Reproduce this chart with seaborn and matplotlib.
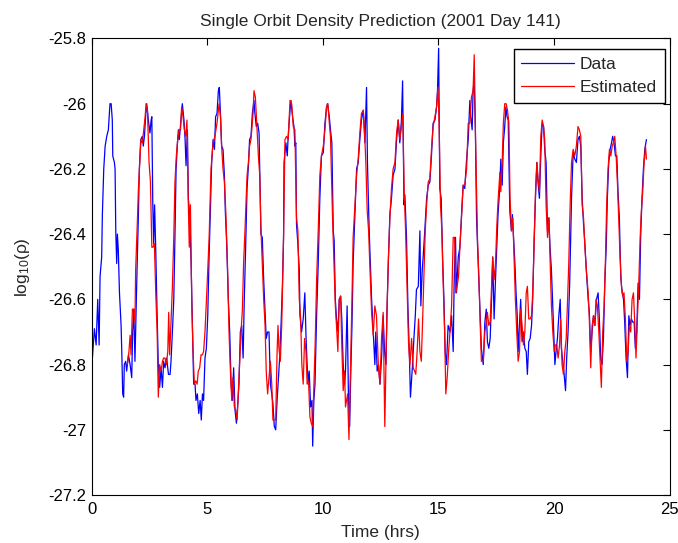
import matplotlib
matplotlib.use("Agg")
import matplotlib.pyplot as plt
import seaborn as sns
import pandas as pd
from matplotlib.ticker import FuncFormatter

# (time in hrs, log10 density)
data_points = [
    (0.00,-26.81),(0.115,-26.69),(0.19,-26.74),(0.26,-26.60),(0.32,-26.74),(0.36,-26.53),(0.43,-26.47),(0.46,-26.34),
    (0.52,-26.20),(0.58,-26.13),(0.65,-26.10),(0.72,-26.08),(0.79,-26.00),(0.84,-26.00),(0.89,-26.05),(0.91,-26.16),
    (0.98,-26.18),(1.01,-26.20),(1.04,-26.39),(1.08,-26.49),(1.11,-26.40),(1.15,-26.45),(1.20,-26.58),(1.27,-26.68),
    (1.30,-26.76),(1.34,-26.89),(1.38,-26.90),(1.41,-26.80),(1.47,-26.79),(1.51,-26.82),(1.59,-26.77),(1.66,-26.80),
    (1.73,-26.84),(1.77,-26.70),(1.82,-26.63),(1.87,-26.79),(1.92,-26.63),(1.96,-26.51),(2.02,-26.34),(2.06,-26.20),
    (2.12,-26.11),(2.19,-26.10),(2.23,-26.13),(2.28,-26.10),(2.34,-26.03),(2.38,-26.00),(2.45,-26.05),(2.52,-26.09),
    (2.57,-26.05),(2.60,-26.04),(2.64,-26.30),(2.68,-26.43),(2.72,-26.31),(2.77,-26.45),(2.83,-26.65),(2.88,-26.80),
    (2.94,-26.87),(3.00,-26.81),(3.06,-26.87),(3.11,-26.79),(3.17,-26.81),(3.24,-26.78),(3.32,-26.83),(3.39,-26.83),
    (3.43,-26.79),(3.49,-26.70),(3.55,-26.60),(3.60,-26.41),(3.65,-26.20),(3.71,-26.12),(3.75,-26.08),(3.79,-26.11),
    (3.85,-26.06),(3.92,-26.00),(3.99,-26.05),(4.04,-26.11),(4.08,-26.19),(4.14,-26.08),(4.18,-26.29),(4.25,-26.35),
    (4.30,-26.49),(4.35,-26.66),(4.41,-26.86),(4.47,-26.86),(4.51,-26.91),(4.57,-26.89),(4.63,-26.95),(4.69,-26.91),
    (4.74,-26.97),(4.79,-26.89),(4.84,-26.91),(4.90,-26.78),(4.96,-26.75),(5.02,-26.65),(5.07,-26.49),(5.13,-26.34),
    (5.19,-26.18),(5.25,-26.11),(5.31,-26.14),(5.36,-26.04),(5.42,-26.03),(5.48,-25.96),(5.52,-25.95),(5.57,-26.03),
    (5.62,-26.13),(5.68,-26.14),(5.74,-26.22),(5.78,-26.33),(5.84,-26.43),(5.91,-26.60),(5.97,-26.70),(6.03,-26.86),
    (6.08,-26.91),(6.14,-26.81),(6.20,-26.94),(6.26,-26.98),(6.31,-26.93),(6.37,-26.86),(6.43,-26.70),(6.49,-26.68),
    (6.55,-26.78),(6.60,-26.60),(6.66,-26.44),(6.72,-26.26),(6.78,-26.19),(6.83,-26.11),(6.89,-26.10),(6.95,-26.03),
    (7.02,-25.99),(7.06,-26.03),(7.12,-26.07),(7.18,-26.06),(7.24,-26.09),(7.28,-26.24),(7.32,-26.40),(7.38,-26.41),
    (7.44,-26.54),(7.50,-26.64),(7.55,-26.72),(7.61,-26.70),(7.67,-26.70),(7.73,-26.86),(7.79,-26.89),(7.84,-26.92),
    (7.90,-26.99),(7.96,-27.00),(8.02,-26.91),(8.07,-26.85),(8.13,-26.78),(8.19,-26.68),(8.25,-26.56),(8.30,-26.41),
    (8.32,-26.18),(8.40,-26.12),(8.46,-26.16),(8.50,-26.10),(8.58,-26.02),(8.62,-25.99),(8.69,-26.04),(8.75,-26.07),
    (8.79,-26.13),(8.83,-26.12),(8.86,-26.37),(8.92,-26.43),(8.98,-26.51),(9.01,-26.65),(9.08,-26.70),(9.15,-26.66),
    (9.22,-26.58),(9.27,-26.71),(9.32,-26.80),(9.37,-26.86),(9.41,-26.82),(9.47,-26.93),(9.53,-26.91),(9.56,-27.05),
    (9.61,-26.91),(9.66,-26.86),(9.73,-26.65),(9.80,-26.49),(9.87,-26.29),(9.94,-26.16),(10.02,-26.15),(10.09,-26.06),
    (10.16,-26.01),(10.20,-26.00),(10.28,-26.04),(10.33,-26.08),(10.39,-26.12),(10.45,-26.39),(10.49,-26.42),(10.54,-26.60),
    (10.59,-26.66),(10.65,-26.70),(10.71,-26.60),(10.77,-26.59),(10.82,-26.66),(10.88,-26.80),(10.94,-26.86),(10.98,-26.82),
    (11.05,-26.62),(11.11,-26.91),(11.16,-26.99),(11.20,-26.85),(11.26,-26.68),(11.31,-26.49),(11.39,-26.34),(11.46,-26.20),
    (11.53,-26.18),(11.60,-26.11),(11.67,-26.05),(11.75,-26.02),(11.82,-26.12),(11.89,-25.95),(11.93,-26.18),(11.99,-26.35),
    (12.03,-26.44),(12.11,-26.60),(12.18,-26.70),(12.25,-26.80),(12.29,-26.70),(12.35,-26.82),(12.41,-26.80),(12.47,-26.86),
    (12.54,-26.78),(12.61,-26.65),(12.67,-26.76),(12.73,-26.80),(12.78,-26.62),(12.84,-26.47),(12.90,-26.34),(12.97,-26.29),
    (13.04,-26.22),(13.12,-26.20),(13.19,-26.11),(13.26,-26.05),(13.33,-26.12),(13.40,-26.05),(13.45,-25.93),(13.51,-26.31),
    (13.55,-26.28),(13.62,-26.41),(13.68,-26.62),(13.74,-26.76),(13.79,-26.90),(13.88,-26.80),(13.94,-26.72),(14.00,-26.65),
    (14.05,-26.57),(14.13,-26.56),(14.20,-26.39),(14.24,-26.62),(14.30,-26.51),(14.34,-26.47),(14.41,-26.39),(14.49,-26.29),
    (14.56,-26.25),(14.63,-26.24),(14.70,-26.16),(14.77,-26.06),(14.85,-26.05),(14.92,-26.01),(14.96,-25.96),(15.01,-25.83),
    (15.06,-26.26),(15.12,-26.29),(15.18,-26.47),(15.24,-26.60),(15.29,-26.76),(15.35,-26.80),(15.42,-26.68),(15.50,-26.70),
    (15.57,-26.65),(15.64,-26.76),(15.68,-26.55),(15.74,-26.41),(15.78,-26.58),(15.86,-26.47),(15.93,-26.44),(16.00,-26.34),
    (16.07,-26.25),(16.14,-26.26),(16.21,-26.18),(16.29,-26.11),(16.36,-25.99),(16.40,-26.04),(16.46,-26.08),(16.50,-25.96),
    (16.55,-25.93),(16.60,-26.08),(16.65,-26.35),(16.69,-26.43),(16.75,-26.54),(16.81,-26.65),(16.86,-26.75),(16.94,-26.80),
    (17.01,-26.67),(17.07,-26.63),(17.12,-26.73),(17.18,-26.75),(17.24,-26.72),(17.30,-26.60),(17.35,-26.47),(17.41,-26.66),
    (17.47,-26.54),(17.53,-26.43),(17.58,-26.34),(17.66,-26.25),(17.70,-26.17),(17.76,-26.25),(17.81,-26.12),(17.87,-26.07),
    (17.92,-26.01),(17.97,-26.04),(18.02,-26.05),(18.09,-26.33),(18.16,-26.39),(18.20,-26.34),(18.25,-26.41),(18.31,-26.49),
    (18.36,-26.58),(18.41,-26.65),(18.45,-26.76),(18.51,-26.67),(18.56,-26.60),(18.62,-26.73),(18.68,-26.70),(18.74,-26.75),
    (18.80,-26.76),(18.85,-26.83),(18.91,-26.73),(18.97,-26.72),(19.03,-26.68),(19.08,-26.60),(19.14,-26.42),(19.20,-26.29),
    (19.26,-26.18),(19.31,-26.24),(19.37,-26.29),(19.43,-26.16),(19.49,-26.06),(19.55,-26.07),(19.60,-26.14),(19.66,-26.18),
    (19.72,-26.39),(19.78,-26.35),(19.83,-26.44),(19.89,-26.51),(19.95,-26.62),(19.99,-26.70),(20.04,-26.80),(20.09,-26.76),
    (20.15,-26.72),(20.21,-26.65),(20.27,-26.60),(20.32,-26.75),(20.38,-26.79),(20.44,-26.83),(20.50,-26.88),(20.55,-26.78),
    (20.61,-26.70),(20.68,-26.55),(20.76,-26.29),(20.83,-26.15),(20.90,-26.17),(20.97,-26.18),(21.04,-26.11),(21.10,-26.10),
    (21.16,-26.13),(21.22,-26.29),(21.28,-26.37),(21.33,-26.42),(21.40,-26.51),(21.48,-26.60),(21.53,-26.64),(21.59,-26.76),
    (21.65,-26.70),(21.71,-26.65),(21.77,-26.68),(21.84,-26.60),(21.91,-26.58),(21.97,-26.67),(22.02,-26.78),(22.08,-26.80),
    (22.14,-26.72),(22.20,-26.55),(22.26,-26.44),(22.31,-26.29),(22.37,-26.18),(22.43,-26.14),(22.49,-26.12),(22.54,-26.10),
    (22.60,-26.12),(22.66,-26.16),(22.72,-26.16),(22.77,-26.27),(22.83,-26.35),(22.89,-26.53),(22.95,-26.58),(23.01,-26.60),
    (23.06,-26.67),(23.12,-26.78),(23.18,-26.84),(23.24,-26.65),(23.29,-26.68),(23.35,-26.66),(23.41,-26.67),(23.47,-26.67),
    (23.52,-26.75),(23.58,-26.70),(23.64,-26.55),(23.70,-26.60),(23.75,-26.41),(23.81,-26.29),(23.87,-26.20),(23.93,-26.14),
    (24.00,-26.11),
]

est_points = [
    (1.54,-26.80),(1.61,-26.76),(1.66,-26.71),(1.70,-26.77),(1.76,-26.63),(1.82,-26.63),(1.87,-26.67),(1.90,-26.51),
    (1.98,-26.35),(2.02,-26.26),(2.08,-26.18),(2.13,-26.11),(2.19,-26.12),(2.25,-26.08),(2.31,-26.04),(2.35,-26.00),
    (2.41,-26.02),(2.48,-26.18),(2.54,-26.24),(2.60,-26.44),(2.65,-26.44),(2.71,-26.43),(2.77,-26.58),(2.83,-26.70),
    (2.88,-26.90),(2.94,-26.80),(3.00,-26.82),(3.06,-26.79),(3.11,-26.78),(3.17,-26.78),(3.23,-26.80),(3.29,-26.76),
    (3.33,-26.64),(3.37,-26.77),(3.43,-26.67),(3.49,-26.56),(3.55,-26.41),(3.60,-26.24),(3.66,-26.16),(3.72,-26.11),
    (3.78,-26.08),(3.84,-26.08),(3.89,-26.01),(3.95,-26.04),(4.01,-26.08),(4.07,-26.10),(4.12,-26.05),(4.18,-26.31),
    (4.22,-26.44),(4.27,-26.31),(4.33,-26.62),(4.38,-26.75),(4.44,-26.86),(4.50,-26.85),(4.56,-26.86),(4.61,-26.82),
    (4.67,-26.81),(4.73,-26.77),(4.79,-26.77),(4.84,-26.76),(4.90,-26.70),(4.99,-26.56),(5.08,-26.41),(5.16,-26.20),
    (5.25,-26.12),(5.33,-26.10),(5.42,-26.06),(5.51,-26.00),(5.57,-26.04),(5.62,-26.13),(5.68,-26.20),(5.74,-26.24),
    (5.80,-26.33),(5.88,-26.51),(5.94,-26.70),(6.00,-26.82),(6.06,-26.91),(6.11,-26.84),(6.17,-26.93),(6.23,-26.94),
    (6.29,-26.97),(6.34,-26.89),(6.40,-26.80),(6.46,-26.70),(6.52,-26.63),(6.57,-26.49),(6.63,-26.39),(6.72,-26.22),
    (6.78,-26.18),(6.83,-26.13),(6.89,-26.11),(6.98,-26.03),(7.02,-25.96),(7.08,-25.98),(7.14,-26.06),(7.21,-26.16),
    (7.27,-26.22),(7.32,-26.38),(7.38,-26.49),(7.44,-26.60),(7.50,-26.68),(7.55,-26.82),(7.61,-26.89),(7.67,-26.84),
    (7.73,-26.79),(7.79,-26.86),(7.84,-26.97),(7.90,-26.97),(7.96,-26.97),(8.02,-26.76),(8.06,-26.68),(8.10,-26.75),
    (8.16,-26.79),(8.22,-26.68),(8.30,-26.41),(8.36,-26.11),(8.43,-26.10),(8.50,-26.11),(8.58,-25.99),(8.65,-26.00),
    (8.72,-26.07),(8.79,-26.08),(8.86,-26.35),(8.92,-26.39),(8.98,-26.60),(9.04,-26.66),(9.09,-26.80),(9.15,-26.86),
    (9.21,-26.72),(9.27,-26.76),(9.32,-26.86),(9.38,-26.85),(9.44,-26.96),(9.50,-26.98),(9.56,-26.99),(9.61,-26.87),
    (9.67,-26.73),(9.73,-26.54),(9.80,-26.39),(9.87,-26.22),(9.94,-26.16),(10.02,-26.13),(10.09,-26.08),(10.16,-26.01),
    (10.22,-26.00),(10.28,-26.06),(10.33,-26.10),(10.42,-26.35),(10.48,-26.49),(10.54,-26.62),(10.59,-26.68),(10.65,-26.76),
    (10.71,-26.60),(10.77,-26.59),(10.82,-26.74),(10.88,-26.88),(10.94,-26.82),(10.98,-26.93),(11.07,-26.89),(11.13,-27.03),
    (11.20,-26.80),(11.26,-26.60),(11.31,-26.41),(11.39,-26.31),(11.46,-26.22),(11.53,-26.17),(11.60,-26.09),(11.67,-26.03),
    (11.75,-26.02),(11.80,-26.08),(11.86,-26.18),(11.92,-26.33),(11.98,-26.39),(12.03,-26.49),(12.11,-26.64),(12.18,-26.71),
    (12.25,-26.62),(12.32,-26.65),(12.40,-26.80),(12.47,-26.86),(12.54,-26.72),(12.61,-26.64),(12.68,-26.99),(12.76,-26.68),
    (12.83,-26.49),(12.90,-26.35),(12.97,-26.26),(13.04,-26.20),(13.12,-26.18),(13.19,-26.09),(13.26,-26.05),(13.33,-26.11),
    (13.40,-26.07),(13.46,-26.03),(13.52,-26.27),(13.58,-26.39),(13.65,-26.58),(13.71,-26.74),(13.77,-26.80),(13.84,-26.72),
    (13.91,-26.81),(13.97,-26.82),(14.02,-26.83),(14.08,-26.76),(14.14,-26.66),(14.20,-26.76),(14.26,-26.79),(14.31,-26.68),
    (14.37,-26.53),(14.43,-26.39),(14.49,-26.31),(14.56,-26.24),(14.63,-26.23),(14.70,-26.14),(14.77,-26.07),(14.85,-26.04),
    (14.92,-26.01),(14.98,-25.95),(15.03,-26.06),(15.09,-26.31),(15.15,-26.39),(15.21,-26.56),(15.27,-26.70),(15.32,-26.89),
    (15.38,-26.84),(15.44,-26.76),(15.50,-26.70),(15.57,-26.62),(15.64,-26.41),(15.70,-26.41),(15.75,-26.58),(15.81,-26.56),
    (15.87,-26.53),(15.93,-26.44),(16.00,-26.35),(16.07,-26.25),(16.14,-26.25),(16.22,-26.20),(16.29,-26.06),(16.36,-26.06),
    (16.43,-25.98),(16.50,-25.96),(16.55,-25.85),(16.60,-26.08),(16.65,-26.27),(16.69,-26.41),(16.75,-26.53),(16.81,-26.68),
    (16.86,-26.79),(16.94,-26.79),(17.01,-26.70),(17.07,-26.67),(17.12,-26.64),(17.18,-26.68),(17.24,-26.67),(17.30,-26.56),
    (17.35,-26.47),(17.41,-26.54),(17.47,-26.49),(17.53,-26.37),(17.58,-26.30),(17.66,-26.21),(17.70,-26.27),(17.76,-26.18),
    (17.81,-26.06),(17.87,-26.00),(17.93,-26.00),(17.99,-26.02),(18.05,-26.06),(18.10,-26.29),(18.16,-26.39),(18.22,-26.35),
    (18.28,-26.49),(18.33,-26.60),(18.39,-26.70),(18.45,-26.79),(18.51,-26.76),(18.56,-26.63),(18.62,-26.68),(18.68,-26.74),
    (18.74,-26.70),(18.80,-26.58),(18.85,-26.56),(18.91,-26.66),(18.97,-26.66),(19.03,-26.65),(19.08,-26.58),(19.14,-26.44),
    (19.20,-26.27),(19.26,-26.18),(19.31,-26.23),(19.37,-26.27),(19.43,-26.10),(19.49,-26.05),(19.55,-26.07),(19.60,-26.11),
    (19.66,-26.31),(19.72,-26.41),(19.78,-26.35),(19.83,-26.47),(19.89,-26.62),(19.95,-26.70),(20.01,-26.76),(20.06,-26.74),
    (20.12,-26.74),(20.18,-26.78),(20.24,-26.74),(20.29,-26.66),(20.35,-26.80),(20.41,-26.83),(20.47,-26.76),(20.53,-26.72),
    (20.58,-26.62),(20.64,-26.49),(20.70,-26.31),(20.76,-26.18),(20.83,-26.14),(20.90,-26.16),(20.97,-26.13),(21.04,-26.07),
    (21.10,-26.08),(21.16,-26.10),(21.22,-26.31),(21.28,-26.35),(21.33,-26.43),(21.40,-26.51),(21.48,-26.58),(21.53,-26.66),
    (21.59,-26.81),(21.65,-26.68),(21.71,-26.65),(21.77,-26.68),(21.82,-26.60),(21.88,-26.62),(21.94,-26.70),(21.99,-26.78),
    (22.05,-26.87),(22.11,-26.70),(22.17,-26.62),(22.23,-26.47),(22.28,-26.31),(22.34,-26.20),(22.40,-26.14),(22.46,-26.16),
    (22.52,-26.13),(22.57,-26.12),(22.63,-26.10),(22.69,-26.16),(22.75,-26.25),(22.80,-26.35),(22.86,-26.47),(22.92,-26.56),
    (22.98,-26.59),(23.03,-26.58),(23.09,-26.66),(23.15,-26.79),(23.21,-26.76),(23.26,-26.68),(23.32,-26.70),(23.38,-26.60),
    (23.44,-26.58),(23.50,-26.68),(23.55,-26.78),(23.61,-26.66),(23.67,-26.55),(23.73,-26.41),(23.78,-26.33),(23.84,-26.27),
    (23.90,-26.18),(23.96,-26.13),(24.00,-26.17),
]

x_ticks = [0, 5, 10, 15, 20, 25]
y_ticks = [-27.2, -27.0, -26.8, -26.6, -26.4, -26.2, -26.0, -25.8]
series_names = ["Data", "Estimated"]
title_text = "Single Orbit Density Prediction (2001 Day 141)"

sns.set_style("white")
plt.rcParams['font.family'] = ['Liberation Sans', 'DejaVu Sans']
plt.rcParams['axes.unicode_minus'] = False
plt.rcParams['mathtext.fontset'] = 'custom'
plt.rcParams['mathtext.rm'] = 'Liberation Sans'
plt.rcParams['mathtext.it'] = 'Liberation Sans:italic'

fig = plt.figure(figsize=(6.78, 5.43), dpi=100)
ax = fig.add_axes([0.1353, 0.0884, 0.8522, 0.8407])

df_data = pd.DataFrame(data_points, columns=["t", "v"])
df_est = pd.DataFrame(est_points, columns=["t", "v"])

sns.lineplot(data=df_data, x="t", y="v", color="#0000ff", lw=0.9,
             estimator=None, sort=False, ax=ax, label=series_names[0])
sns.lineplot(data=df_est, x="t", y="v", color="#ff0000", lw=0.9,
             estimator=None, sort=False, ax=ax, label=series_names[1])

ax.set_xlim(0, 25)
ax.set_ylim(-27.2, -25.8)
ax.set_xticks(x_ticks)
ax.set_yticks(y_ticks)
ax.yaxis.set_major_formatter(FuncFormatter(lambda v, p: "%g" % round(v, 1)))
ax.tick_params(direction="in", top=True, right=True, length=5, width=0.8,
               labelsize=12, colors="black")
ax.tick_params(axis="y", pad=4)
ax.tick_params(axis="x", pad=5)
for s in ax.spines.values():
    s.set_visible(True)
    s.set_color("black")
    s.set_linewidth(0.8)

ax.set_title(title_text, fontsize=12.5, pad=9)
ax.set_xlabel("Time (hrs)", fontsize=12.5, labelpad=6)
ax.set_ylabel("log$_{10}$(\u03c1)", fontsize=12.5, labelpad=12)

leg = ax.legend(loc="upper right", bbox_to_anchor=(0.9914, 0.977), borderaxespad=0,
                frameon=True, fancybox=False, framealpha=1, edgecolor="black",
                fontsize=12.5, handlelength=3.0, handletextpad=0.35, borderpad=0.45,
                labelspacing=0.45)
leg.get_frame().set_linewidth(1.0)
for h in leg.get_lines():
    h.set_linewidth(0.9)

fig.savefig("out.png", dpi=100)
